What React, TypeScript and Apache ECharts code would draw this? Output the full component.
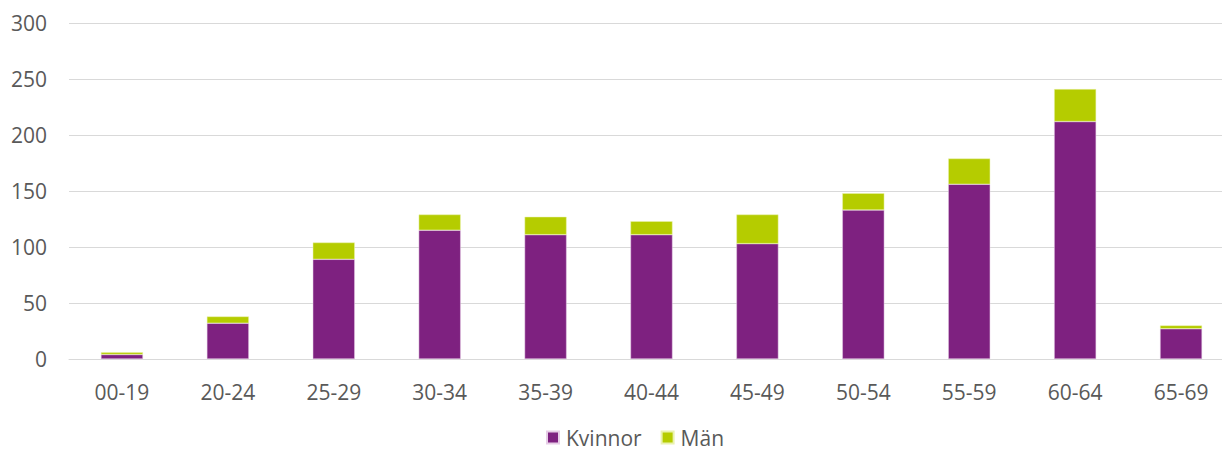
import React, { useEffect, useRef } from "react";
import * as echarts from "echarts";

const categories = ["00-19", "20-24", "25-29", "30-34", "35-39", "40-44", "45-49", "50-54", "55-59", "60-64", "65-69"];
const kvinnor = [4, 32, 89, 115, 111, 111, 103, 133, 156, 212, 27];
const man = [2, 6, 15, 14, 16, 12, 26, 15, 23, 29, 3];
const yTicks = { min: 0, max: 300, interval: 50 };

const FONT = "Open Sans";

export default function App() {
  const ref = useRef<HTMLDivElement>(null);
  useEffect(() => {
    const chart = echarts.init(ref.current!, undefined, { renderer: "svg" });
    chart.setOption({
      animation: false,
      textStyle: { fontFamily: FONT },
      grid: { left: 69, top: 23, width: 1165, height: 336, containLabel: false },
      legend: {
        bottom: 4,
        left: 546,
        padding: 0,
        itemWidth: 12,
        itemHeight: 12,
        itemGap: 19,
        icon: "rect",
        textStyle: { color: "#595959", fontSize: 21, lineHeight: 21, fontFamily: FONT, padding: [0, 0, 0, 2] },
        data: ["Kvinnor", "Män"],
      },
      xAxis: {
        type: "category",
        data: categories,
        axisLine: { show: true, lineStyle: { color: "#D9D9D9", width: 1 } },
        axisTick: { show: false },
        axisLabel: { color: "#595959", fontSize: 21, margin: 22, fontFamily: FONT },
      },
      yAxis: {
        type: "value",
        min: yTicks.min,
        max: yTicks.max,
        interval: yTicks.interval,
        axisLine: { show: false },
        axisTick: { show: false },
        splitLine: { lineStyle: { color: "#D9D9D9", width: 1 } },
        axisLabel: { color: "#595959", fontSize: 21, margin: 22, fontFamily: FONT },
      },
      series: [
        {
          name: "Kvinnor",
          type: "bar",
          stack: "total",
          data: kvinnor,
          barWidth: 42,
          itemStyle: { color: "#7E2180", borderColor: "#E6CDE6", borderWidth: 0.5 },
        },
        {
          name: "Män",
          type: "bar",
          stack: "total",
          data: man,
          barWidth: 42,
          itemStyle: { color: "#B5CC00", borderColor: "#EAF2B0", borderWidth: 0.5 },
        },
      ],
    });
    return () => chart.dispose();
  }, []);
  return (
    <div style={{ position: "absolute", left: 0, top: 0, width: 1222, height: 452, overflow: "hidden" }}>
      <div ref={ref} style={{ width: 1240, height: 452 }} />
    </div>
  );
}
